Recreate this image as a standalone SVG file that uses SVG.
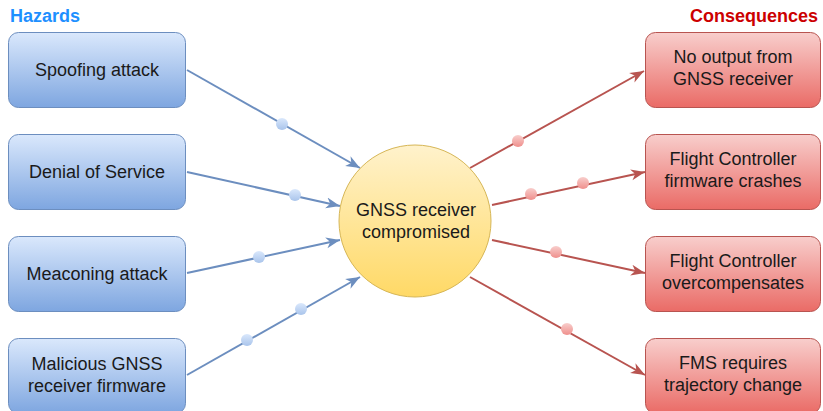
<svg xmlns="http://www.w3.org/2000/svg" width="823" height="411" viewBox="0 0 823 411">
<defs>
<linearGradient id="gBlue" x1="0" y1="0" x2="0" y2="1"><stop offset="0" stop-color="#dae8fc"/><stop offset="1" stop-color="#7ea6e0"/></linearGradient>
<linearGradient id="gRed" x1="0" y1="0" x2="0" y2="1"><stop offset="0" stop-color="#f8cecc"/><stop offset="1" stop-color="#ea6b66"/></linearGradient>
<linearGradient id="gYel" x1="0" y1="0" x2="0" y2="1"><stop offset="0" stop-color="#fff2cc"/><stop offset="1" stop-color="#ffd966"/></linearGradient>
<linearGradient id="gDotB" x1="0" y1="0" x2="0" y2="1"><stop offset="0" stop-color="#dae8fc"/><stop offset="1" stop-color="#a9c4eb"/></linearGradient>
<linearGradient id="gDotR" x1="0" y1="0" x2="0" y2="1"><stop offset="0" stop-color="#f8cecc"/><stop offset="1" stop-color="#ef8f8c"/></linearGradient>
<marker id="aB" markerWidth="15" markerHeight="12" refX="14" refY="6" orient="auto" markerUnits="userSpaceOnUse"><path d="M0,0.5 L14,6 L0,11.5 L4,6 Z" fill="#6c8ebf"/></marker>
<marker id="aR" markerWidth="15" markerHeight="12" refX="14" refY="6" orient="auto" markerUnits="userSpaceOnUse"><path d="M0,0.5 L14,6 L0,11.5 L4,6 Z" fill="#b85450"/></marker>
<style>
.t{font-family:"Liberation Sans",Arial,sans-serif;font-size:18px;fill:#1a1a1a;text-anchor:middle}
.h{font-family:"Liberation Sans",Arial,sans-serif;font-size:18px;font-weight:bold}
.bb{fill:url(#gBlue);stroke:#6c8ebf;stroke-width:1}
.rb{fill:url(#gRed);stroke:#b85450;stroke-width:1}
.lb{stroke:#6c8ebf;stroke-width:2;fill:none;marker-end:url(#aB)}
.lr{stroke:#b85450;stroke-width:2;fill:none;marker-end:url(#aR)}
.db{fill:url(#gDotB)}
.dr{fill:url(#gDotR)}
</style>
</defs>
<text class="h" x="10" y="22" fill="#1e90ff">Hazards</text>
<text class="h" x="818" y="22" fill="#cc0000" text-anchor="end">Consequences</text>
<g id="connectors">
<line class="lb" x1="187" y1="70" x2="360" y2="168"/>
<line class="lb" x1="187" y1="172" x2="340" y2="206"/>
<line class="lb" x1="187" y1="273" x2="340" y2="240"/>
<line class="lb" x1="187" y1="375" x2="360" y2="277"/>
<line class="lr" x1="470" y1="168" x2="644" y2="71"/>
<line class="lr" x1="492" y1="205" x2="645" y2="172"/>
<line class="lr" x1="492" y1="240" x2="645" y2="273"/>
<line class="lr" x1="470" y1="277" x2="645" y2="375"/>
<circle class="db" cx="282" cy="124" r="6"/>
<circle class="db" cx="295" cy="195" r="6"/>
<circle class="db" cx="259" cy="257" r="6"/>
<circle class="db" cx="247" cy="340" r="6"/>
<circle class="db" cx="301" cy="309" r="6"/>
<circle class="dr" cx="518" cy="141" r="6"/>
<circle class="dr" cx="531" cy="194" r="6"/>
<circle class="dr" cx="583" cy="183" r="6"/>
<circle class="dr" cx="556" cy="252" r="6"/>
<circle class="dr" cx="567" cy="329" r="6"/>
</g>
<g id="spoofing"><rect class="bb" x="8.5" y="32.5" width="177" height="75" rx="10"/><text class="t" x="97" y="76">Spoofing attack</text></g>
<g id="dos"><rect class="bb" x="8.5" y="134.5" width="177" height="75" rx="10"/><text class="t" x="97" y="178">Denial of Service</text></g>
<g id="meaconing"><rect class="bb" x="8.5" y="236.5" width="177" height="75" rx="10"/><text class="t" x="97" y="280">Meaconing attack</text></g>
<g id="malicious"><rect class="bb" x="8.5" y="338.5" width="177" height="75" rx="10"/><text class="t" x="97" y="370">Malicious GNSS</text><text class="t" x="97" y="392">receiver firmware</text></g>
<g id="center"><circle cx="415" cy="221" r="76" fill="url(#gYel)" stroke="#d6b656" stroke-width="1"/><text class="t" x="416" y="216">GNSS receiver</text><text class="t" x="416" y="238">compromised</text></g>
<g id="nooutput"><rect class="rb" x="645.5" y="32.5" width="175" height="75" rx="10"/><text class="t" x="733" y="63">No output from</text><text class="t" x="733" y="85">GNSS receiver</text></g>
<g id="fccrash"><rect class="rb" x="645.5" y="134.5" width="175" height="75" rx="10"/><text class="t" x="733" y="165">Flight Controller</text><text class="t" x="733" y="187">firmware crashes</text></g>
<g id="fcover"><rect class="rb" x="645.5" y="236.5" width="175" height="75" rx="10"/><text class="t" x="733" y="267">Flight Controller</text><text class="t" x="733" y="289">overcompensates</text></g>
<g id="fms"><rect class="rb" x="645.5" y="338.5" width="175" height="75" rx="10"/><text class="t" x="733" y="369">FMS requires</text><text class="t" x="733" y="391">trajectory change</text></g>
</svg>
